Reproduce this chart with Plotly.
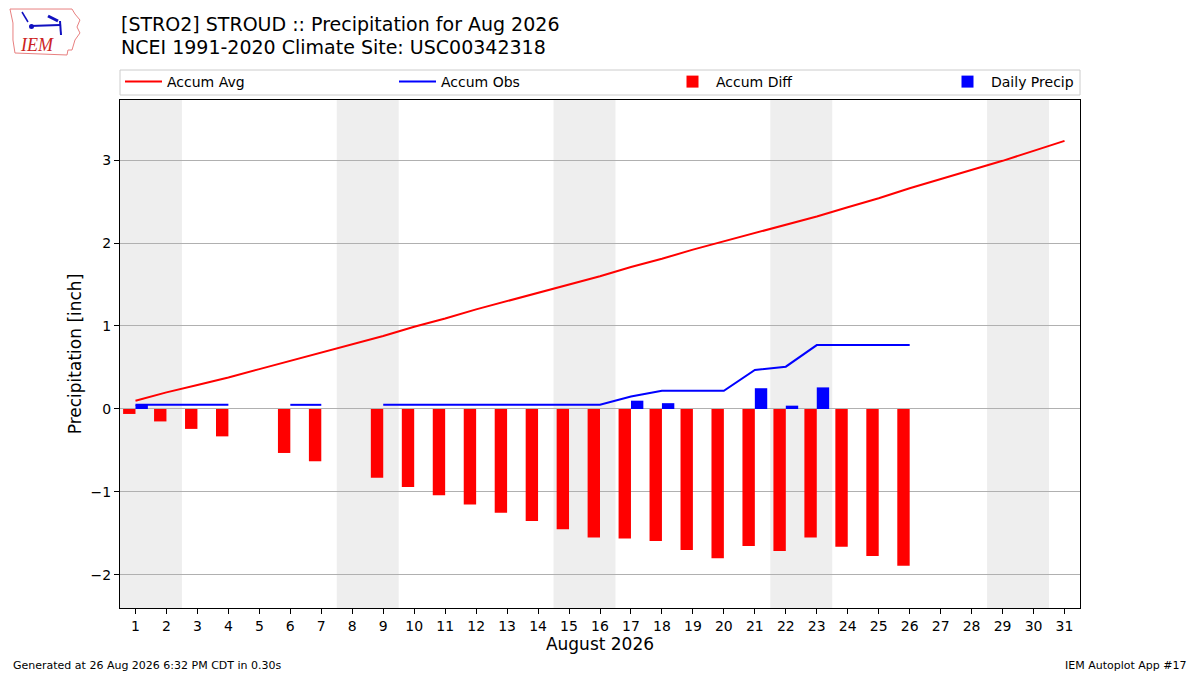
import plotly.graph_objects as go

# day of month
days = list(range(1, 32))

# accumulated climatology (inch)
accum_avg = [0.10, 0.20, 0.29, 0.38, 0.48, 0.58, 0.68, 0.78, 0.88, 0.99,
             1.09, 1.20, 1.30, 1.40, 1.50, 1.60, 1.71, 1.81, 1.92, 2.02,
             2.12, 2.22, 2.32, 2.43, 2.54, 2.66, 2.77, 2.88, 2.99, 3.11, 3.23]

# accumulated observed (inch), None = missing
accum_obs = [0.05, 0.05, 0.05, 0.05, None, 0.05, 0.05, None, 0.05, 0.05,
             0.05, 0.05, 0.05, 0.05, 0.05, 0.05, 0.15, 0.22, 0.22, 0.22,
             0.47, 0.51, 0.77, 0.77, 0.77, 0.77, None, None, None, None, None]

# observed minus average
accum_diff = [-0.06, -0.15, -0.24, -0.33, None, -0.53, -0.63, None, -0.83, -0.94,
              -1.04, -1.15, -1.25, -1.35, -1.45, -1.55, -1.56, -1.59, -1.70, -1.80,
              -1.65, -1.71, -1.55, -1.66, -1.77, -1.89, None, None, None, None, None]

# daily precipitation
daily_precip = [0.05, 0, 0, 0, None, 0, 0, None, 0, 0,
                0, 0, 0, 0, 0, 0, 0.10, 0.07, 0, 0,
                0.25, 0.04, 0.26, 0, 0, 0, None, None, None, None, None]

weekend_days = [1, 2, 8, 9, 15, 16, 22, 23, 29, 30]

FONT = 'DejaVu Sans'
# page body has an 8px margin, so the figure is drawn 8px smaller and shifted
PAD = 8
W, H = 1200 - PAD, 675 - PAD
L, T = 120 - PAD, 100 - PAD
PW, PH = 960, 508
R, B = W - L - PW, H - T - PH


def px(x):
    # page pixel -> paper x
    return (x - PAD - L) / PW


def py(y):
    # page pixel -> paper y
    return (T + PH - (y - PAD)) / PH


fig = go.Figure()

fig.add_trace(go.Scatter(x=days, y=accum_avg, mode='lines', name='Accum Avg',
                         line=dict(color='red', width=2), legend='legend'))
fig.add_trace(go.Scatter(x=days, y=accum_obs, mode='lines', name='Accum Obs',
                         line=dict(color='blue', width=2), legend='legend2'))
fig.add_trace(go.Bar(x=days, y=accum_diff, name='Accum Diff', marker_color='red',
                     marker_line_width=0, width=0.4, offset=-0.4, legend='legend3'))
fig.add_trace(go.Bar(x=days, y=daily_precip, name='Daily Precip', marker_color='blue',
                     marker_line_width=0, width=0.4, offset=0, legend='legend4'))

# weekend shading, consecutive days merged into one span
shapes = []
spans = []
for d in weekend_days:
    if spans and spans[-1][1] == d - 1:
        spans[-1][1] = d
    else:
        spans.append([d, d])
for a, b in spans:
    shapes.append(dict(type='rect', xref='x', yref='paper', x0=a - 0.5, x1=b + 0.5,
                       y0=0, y1=1, fillcolor='#eeeeee', line_width=0, layer='below'))

# legend frame
shapes.append(dict(type='rect', xref='paper', yref='paper', x0=px(120), x1=px(1080),
                   y0=py(95), y1=py(70), line=dict(color='#cccccc', width=1),
                   fillcolor='rgba(255,255,255,0.8)', layer='below'))

# crude logo: state outline + wind vane
outline = [(10, 9), (72, 9), (75, 14), (80, 20), (77, 27), (80, 33), (75, 40),
           (72, 50), (68, 50), (67, 55), (15, 53), (13, 40), (13, 23), (10, 9)]
path = 'M' + ' L'.join(f'{px(a):.4f},{py(b):.4f}' for a, b in outline) + ' Z'
shapes.append(dict(type='path', xref='paper', yref='paper', path=path,
                   line=dict(color='#e88080', width=1)))
shapes.append(dict(type='line', xref='paper', yref='paper', x0=px(30), x1=px(60),
                   y0=py(26), y1=py(25), line=dict(color='#1010c0', width=2)))
shapes.append(dict(type='line', xref='paper', yref='paper', x0=px(60), x1=px(61),
                   y0=py(21), y1=py(35), line=dict(color='#1010c0', width=2)))
shapes.append(dict(type='line', xref='paper', yref='paper', x0=px(48), x1=px(58),
                   y0=py(16), y1=py(21), line=dict(color='#1010c0', width=3)))
shapes.append(dict(type='circle', xref='paper', yref='paper', x0=px(29), x1=px(34),
                   y0=py(29), y1=py(24), fillcolor='#1010c0', line_width=0))
shapes.append(dict(type='line', xref='paper', yref='paper', x0=px(22), x1=px(28),
                   y0=py(12), y1=py(22), line=dict(color='#1010c0', width=1.5)))

annotations = [
    dict(text='[STRO2] STROUD :: Precipitation for Aug 2026', x=px(119), y=py(24),
         xanchor='left', yanchor='middle', font=dict(size=19)),
    dict(text='NCEI 1991-2020 Climate Site: USC00342318', x=px(119), y=py(47),
         xanchor='left', yanchor='middle', font=dict(size=19)),
    dict(text='Generated at 26 Aug 2026 6:32 PM CDT in 0.30s', x=px(11), y=py(665),
         xanchor='left', yanchor='middle', font=dict(size=11)),
    dict(text='IEM Autoplot App #17', x=px(1189), y=py(665),
         xanchor='right', yanchor='middle', font=dict(size=11)),
    dict(text='<i>IEM</i>', x=px(37), y=py(45), xanchor='center', yanchor='middle',
         font=dict(size=18, family='Liberation Serif', color='#cc2222')),
]
for a in annotations:
    a.update(xref='paper', yref='paper', showarrow=False)

legend_style = dict(orientation='h', yanchor='middle', y=py(82), xanchor='left',
                    bgcolor='rgba(0,0,0,0)', borderwidth=0, itemwidth=37,
                    font=dict(family=FONT, size=14, color='black'))

fig.update_layout(
    width=W, height=H,
    margin=dict(l=L, r=R, t=T, b=B, autoexpand=False),
    paper_bgcolor='white', plot_bgcolor='white',
    font=dict(family=FONT, size=14, color='black'),
    barmode='overlay',
    showlegend=True,
    legend=dict(x=px(120), **legend_style),
    legend2=dict(x=px(394), **legend_style),
    legend3=dict(x=px(669), **legend_style),
    legend4=dict(x=px(944), **legend_style),
    shapes=shapes,
    annotations=annotations,
    xaxis=dict(range=[0.5, 31.5], tickmode='array', tickvals=days,
               ticktext=[str(d) for d in days], ticks='outside', ticklen=5,
               tickcolor='black', showgrid=False, zeroline=False,
               showline=True, linecolor='black', linewidth=1, mirror=True,
               title=dict(text='August 2026', font=dict(size=17), standoff=5)),
    yaxis=dict(range=[-2.398, 3.723], tickmode='array', tickvals=[-2, -1, 0, 1, 2, 3],
               ticks='outside', ticklen=5, tickcolor='black',
               showgrid=True, gridcolor='#b0b0b0', gridwidth=1, zeroline=False,
               showline=True, linecolor='black', linewidth=1, mirror=True,
               title=dict(text='Precipitation [inch]', font=dict(size=17), standoff=4)),
)

fig.write_html('out.html')
